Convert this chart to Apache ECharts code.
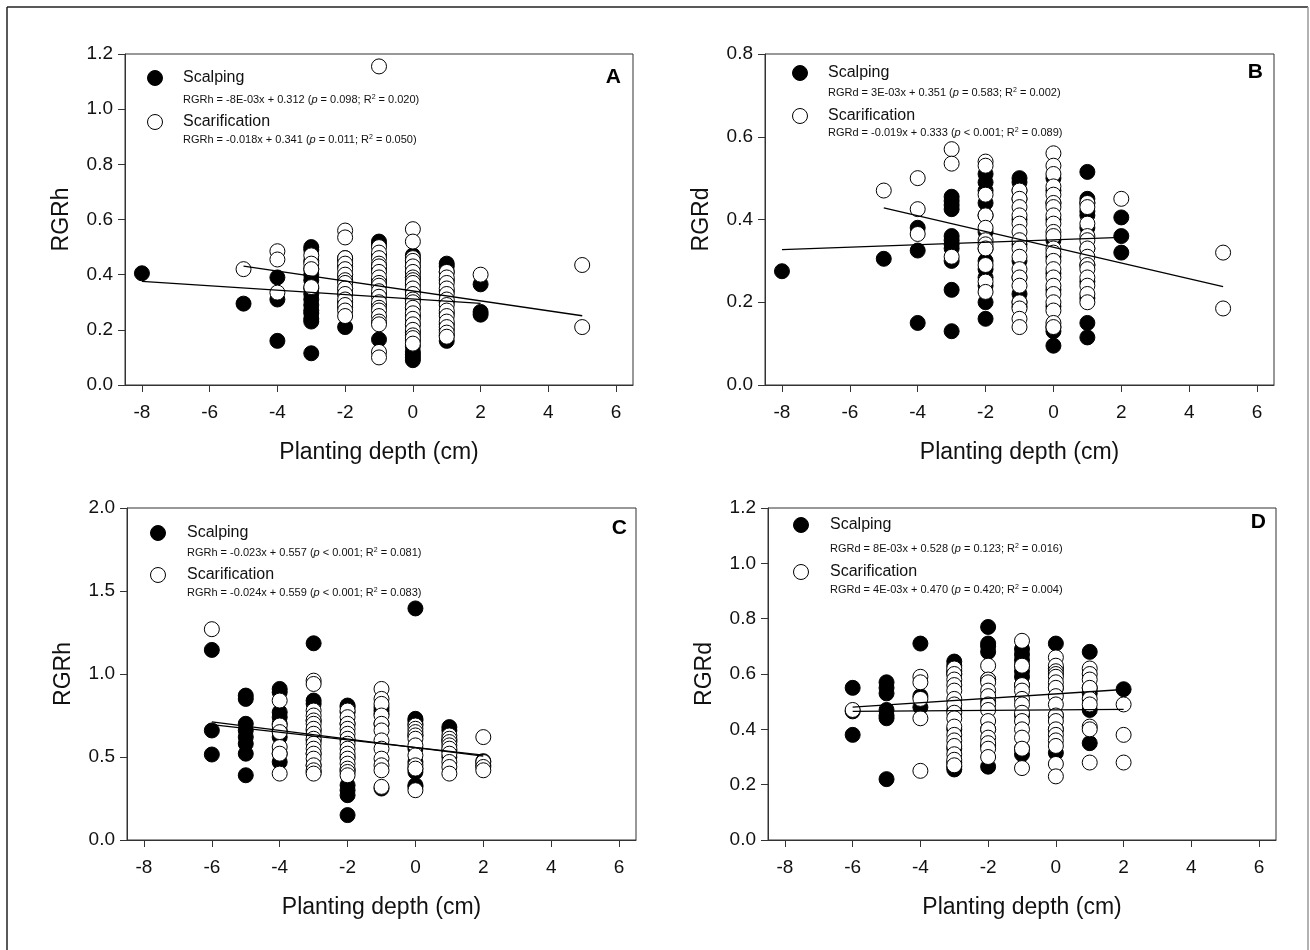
<!DOCTYPE html>
<html>
<head>
<meta charset="utf-8">
<script src="https://cdn.jsdelivr.net/npm/echarts@6/dist/echarts.min.js"></script>
<style>
  html, body { margin: 0; padding: 0; background: #fff; }
  #chart { width: 1310px; height: 950px; }
</style>
</head>
<body>
<div id="chart"></div>
<script>
// values: [planting depth, [values at that depth]]
const xTicks = [-8, -6, -4, -2, 0, 2, 4, 6]

const aScalp = [[-8, [0.405]], [-5, [0.295]], [-4, [0.39, 0.31, 0.16]],
  [-3, [0.50, 0.49, 0.45, 0.42, 0.40, 0.38, 0.35, 0.33, 0.31, 0.29, 0.27, 0.26, 0.24, 0.23, 0.115]],
  [-2, [0.46, 0.45, 0.43, 0.40, 0.38, 0.35, 0.33, 0.30, 0.28, 0.21]],
  [-1, [0.52, 0.51, 0.47, 0.42, 0.38, 0.33, 0.29, 0.165]],
  [0, [0.47, 0.45, 0.43, 0.41, 0.39, 0.36, 0.34, 0.31, 0.28, 0.25, 0.22, 0.19, 0.16, 0.14, 0.12, 0.11, 0.10, 0.09]],
  [1, [0.44, 0.43, 0.41, 0.38, 0.34, 0.30, 0.26, 0.22, 0.20, 0.18, 0.16]],
  [2, [0.365, 0.265, 0.255]]]
const aScarif = [[-5, [0.42]], [-4, [0.485, 0.455, 0.335]], [-3, [0.47, 0.44, 0.42, 0.355]],
  [-2, [0.56, 0.535, 0.46, 0.44, 0.42, 0.40, 0.38, 0.37, 0.35, 0.33, 0.31, 0.29, 0.27, 0.25]],
  [-1, [1.155, 0.50, 0.48, 0.46, 0.44, 0.43, 0.41, 0.39, 0.37, 0.36, 0.34, 0.32, 0.30, 0.28, 0.27, 0.25, 0.23, 0.22, 0.12, 0.10]],
  [0, [0.565, 0.52, 0.46, 0.45, 0.43, 0.41, 0.39, 0.38, 0.37, 0.35, 0.33, 0.31, 0.30, 0.28, 0.26, 0.24, 0.22, 0.20, 0.18, 0.17, 0.15]],
  [1, [0.41, 0.39, 0.37, 0.35, 0.33, 0.31, 0.29, 0.27, 0.25, 0.23, 0.21, 0.19, 0.175]],
  [2, [0.40]], [5, [0.435, 0.21]]]

const bScalp = [[-8, [0.275]], [-5, [0.305]], [-4, [0.38, 0.325, 0.15]],
  [-3, [0.455, 0.445, 0.435, 0.425, 0.36, 0.35, 0.34, 0.33, 0.30, 0.23, 0.13]],
  [-2, [0.51, 0.49, 0.47, 0.44, 0.41, 0.37, 0.33, 0.30, 0.28, 0.26, 0.24, 0.20, 0.16]],
  [-1, [0.50, 0.49, 0.47, 0.45, 0.40, 0.34, 0.30, 0.26, 0.22, 0.20, 0.19]],
  [0, [0.50, 0.47, 0.44, 0.40, 0.35, 0.31, 0.27, 0.23, 0.19, 0.14, 0.13, 0.095]],
  [1, [0.515, 0.45, 0.44, 0.42, 0.41, 0.38, 0.33, 0.29, 0.25, 0.21, 0.15, 0.115]],
  [2, [0.405, 0.36, 0.32]]]
const bScarif = [[-5, [0.47]], [-4, [0.50, 0.425, 0.365]], [-3, [0.57, 0.535, 0.31]],
  [-2, [0.54, 0.53, 0.46, 0.41, 0.38, 0.35, 0.34, 0.33, 0.29, 0.25, 0.225]],
  [-1, [0.47, 0.45, 0.43, 0.41, 0.39, 0.37, 0.35, 0.33, 0.31, 0.28, 0.26, 0.24, 0.20, 0.185, 0.16, 0.14]],
  [0, [0.56, 0.53, 0.51, 0.48, 0.46, 0.44, 0.43, 0.41, 0.39, 0.37, 0.36, 0.33, 0.32, 0.30, 0.28, 0.26, 0.24, 0.22, 0.20, 0.18, 0.15, 0.14]],
  [1, [0.44, 0.43, 0.39, 0.36, 0.35, 0.33, 0.31, 0.29, 0.28, 0.26, 0.24, 0.22, 0.20]],
  [2, [0.45]], [5, [0.32, 0.185]]]

const cScalp = [[-6, [1.145, 0.66, 0.515]], [-5, [0.87, 0.85, 0.70, 0.66, 0.62, 0.58, 0.52, 0.39]],
  [-4, [0.91, 0.89, 0.77, 0.74, 0.70, 0.66, 0.62, 0.52, 0.47]],
  [-3, [1.185, 0.84, 0.82, 0.72, 0.66, 0.60, 0.52, 0.45, 0.41]],
  [-2, [0.81, 0.80, 0.77, 0.70, 0.60, 0.50, 0.42, 0.33, 0.30, 0.27, 0.15]],
  [-1, [0.80, 0.78, 0.76, 0.70, 0.31]],
  [0, [1.395, 0.73, 0.72, 0.70, 0.63, 0.55, 0.47, 0.43, 0.41, 0.33, 0.32]],
  [1, [0.68, 0.66, 0.60, 0.54, 0.50]], [2, [0.475, 0.45]]]
const cScarif = [[-6, [1.27]], [-4, [0.84, 0.69, 0.65, 0.56, 0.52, 0.40]],
  [-3, [0.96, 0.94, 0.78, 0.75, 0.72, 0.70, 0.67, 0.64, 0.61, 0.58, 0.55, 0.52, 0.49, 0.45, 0.42, 0.40]],
  [-2, [0.78, 0.74, 0.70, 0.67, 0.64, 0.61, 0.58, 0.55, 0.52, 0.49, 0.46, 0.43, 0.41, 0.39]],
  [-1, [0.91, 0.85, 0.82, 0.75, 0.70, 0.66, 0.60, 0.55, 0.49, 0.45, 0.42, 0.32]],
  [0, [0.69, 0.67, 0.65, 0.63, 0.61, 0.57, 0.51, 0.45, 0.43, 0.30]],
  [1, [0.63, 0.61, 0.59, 0.57, 0.55, 0.52, 0.47, 0.44, 0.40]], [2, [0.62, 0.47, 0.44, 0.42]]]

const dScalp = [[-6, [0.55, 0.465, 0.38]], [-5, [0.57, 0.55, 0.53, 0.47, 0.45, 0.44, 0.22]], [-4, [0.71, 0.52, 0.48]],
  [-3, [0.645, 0.63, 0.61, 0.60, 0.47, 0.40, 0.33, 0.28, 0.265, 0.255]],
  [-2, [0.77, 0.71, 0.70, 0.68, 0.58, 0.50, 0.40, 0.34, 0.265]],
  [-1, [0.69, 0.67, 0.65, 0.63, 0.61, 0.59, 0.56, 0.45, 0.33, 0.31]],
  [0, [0.71, 0.62, 0.55, 0.45, 0.40, 0.315]], [1, [0.68, 0.55, 0.53, 0.47, 0.35]], [2, [0.545]]]
const dScarif = [[-6, [0.47]], [-4, [0.59, 0.57, 0.51, 0.44, 0.25]],
  [-3, [0.62, 0.60, 0.58, 0.56, 0.54, 0.51, 0.49, 0.46, 0.44, 0.41, 0.38, 0.36, 0.34, 0.31, 0.29, 0.27]],
  [-2, [0.63, 0.58, 0.57, 0.54, 0.52, 0.49, 0.47, 0.43, 0.40, 0.37, 0.35, 0.33, 0.30]],
  [-1, [0.72, 0.63, 0.56, 0.54, 0.51, 0.49, 0.46, 0.43, 0.40, 0.37, 0.33, 0.26]],
  [0, [0.66, 0.63, 0.61, 0.60, 0.59, 0.57, 0.55, 0.52, 0.49, 0.45, 0.43, 0.40, 0.38, 0.36, 0.34, 0.275, 0.23]],
  [1, [0.62, 0.60, 0.58, 0.55, 0.51, 0.49, 0.41, 0.40, 0.28]], [2, [0.49, 0.38, 0.28]]]

// regression lines, end points as drawn
const aFitScalp = [[-8, 0.376], [2, 0.296]]
const aFitScarif = [[-5, 0.431], [5, 0.251]]
const bFitScalp = [[-8, 0.327], [2, 0.357]]
const bFitScarif = [[-5, 0.428], [5, 0.238]]
const cFitScalp = [[-6, 0.695], [2, 0.511]]
const cFitScarif = [[-6, 0.712], [2, 0.505]]
const dFitScalp = [[-6, 0.480], [2, 0.544]]
const dFitScarif = [[-6, 0.465], [2, 0.472]]

// equation texts: [fit, p part, R2]
const aEq = [['RGRh = -8E-03x + 0.312', ' = 0.098', '0.020'], ['RGRh = -0.018x + 0.341', ' = 0.011', '0.050']]
const bEq = [['RGRd = 3E-03x + 0.351', ' = 0.583', '0.002'], ['RGRd = -0.019x + 0.333', ' < 0.001', '0.089']]
const cEq = [['RGRh = -0.023x + 0.557', ' < 0.001', '0.081'], ['RGRh = -0.024x + 0.559', ' < 0.001', '0.083']]
const dEq = [['RGRd = 8E-03x + 0.528', ' = 0.123', '0.016'], ['RGRd = 4E-03x + 0.470', ' = 0.420', '0.004']]

const FONT = 'Arial, "Liberation Sans", sans-serif'
const INK = '#111'

const panels = [
  { letter: 'A', grid: { left: 125, top: 54, width: 508, height: 331 }, yMax: 1.2, yInt: 0.2, yName: 'RGRh',
    scalp: aScalp, scarif: aScarif, fits: [aFitScalp, aFitScarif], eq: aEq,
    leg: { cx: 155, tx: 183, y: [78, 100, 122, 140] }, lab: [621, 77] },
  { letter: 'B', grid: { left: 765, top: 54, width: 509, height: 331 }, yMax: 0.8, yInt: 0.2, yName: 'RGRd',
    scalp: bScalp, scarif: bScarif, fits: [bFitScalp, bFitScarif], eq: bEq,
    leg: { cx: 800, tx: 828, y: [73, 93, 116, 133] }, lab: [1263, 72] },
  { letter: 'C', grid: { left: 127, top: 508, width: 509, height: 332 }, yMax: 2.0, yInt: 0.5, yName: 'RGRh',
    scalp: cScalp, scarif: cScarif, fits: [cFitScalp, cFitScarif], eq: cEq,
    leg: { cx: 158, tx: 187, y: [533, 553, 575, 593] }, lab: [627, 528] },
  { letter: 'D', grid: { left: 768, top: 508, width: 508, height: 332 }, yMax: 1.2, yInt: 0.2, yName: 'RGRd',
    scalp: dScalp, scarif: dScarif, fits: [dFitScalp, dFitScarif], eq: dEq,
    leg: { cx: 801, tx: 830, y: [525, 549, 572, 590] }, lab: [1266, 522] }
]

function flat(cols) {
  const out = []
  cols.forEach(([x, ys]) => ys.forEach(y => out.push([x, y])))
  return out
}

function eqText(e) {
  return '{n|' + e[0] + ' (}{i|p}{n|' + e[1] + '; R}{s|2}{n| = ' + e[2] + ')}'
}
const eqRich = {
  n: { fontFamily: FONT, fontSize: 11, lineHeight: 13, fill: INK, color: INK },
  i: { fontFamily: FONT, fontSize: 11, lineHeight: 13, fontStyle: 'italic', fill: INK, color: INK },
  s: { fontFamily: FONT, fontSize: 7, lineHeight: 7, verticalAlign: 'top', fill: INK, color: INK }
}

const axisLineStyle = { color: '#333', width: 1 }

const option = {
  animation: false,
  backgroundColor: '#fff',
  grid: panels.map(p => Object.assign({ show: true, borderColor: '#333', borderWidth: 1, outerBoundsMode: 'none', containLabel: false }, p.grid)),
  xAxis: panels.map((p, i) => ({
    type: 'value', gridIndex: i, min: -8.5, max: 6.5,
    name: 'Planting depth (cm)', nameLocation: 'middle', nameGap: 56,
    nameTextStyle: { fontFamily: FONT, fontSize: 23, color: INK },
    axisLine: { show: true, onZero: false, lineStyle: axisLineStyle },
    axisTick: { show: true, length: 7, customValues: xTicks, lineStyle: axisLineStyle },
    axisLabel: { customValues: xTicks, fontFamily: FONT, fontSize: 19, color: INK, margin: 18 },
    splitLine: { show: false }
  })),
  yAxis: panels.map((p, i) => ({
    type: 'value', gridIndex: i, min: 0, max: p.yMax, interval: p.yInt,
    name: p.yName, nameLocation: 'middle', nameGap: 52,
    nameTextStyle: { fontFamily: FONT, fontSize: 23, color: INK },
    axisLine: { show: true, onZero: false, lineStyle: axisLineStyle },
    axisTick: { show: true, length: 7, lineStyle: axisLineStyle },
    axisLabel: { fontFamily: FONT, fontSize: 19, color: INK, margin: 12, formatter: v => v.toFixed(1) },
    splitLine: { show: false }
  })),
  series: [],
  graphic: []
}

panels.forEach((p, i) => {
  option.series.push({
    type: 'scatter', xAxisIndex: i, yAxisIndex: i, data: flat(p.scalp), symbolSize: 15, z: 2,
    itemStyle: { color: '#000', borderColor: '#000', borderWidth: 1, opacity: 1 }, silent: true
  })
  option.series.push({
    type: 'scatter', xAxisIndex: i, yAxisIndex: i, data: flat(p.scarif), symbolSize: 15, z: 3,
    itemStyle: { color: '#fff', borderColor: '#000', borderWidth: 1, opacity: 1 }, silent: true
  })
  p.fits.forEach(f => {
    option.series.push({
      type: 'line', xAxisIndex: i, yAxisIndex: i, data: f, symbol: 'none', z: 4, silent: true,
      lineStyle: { color: '#000', width: 1.3 }
    })
  })

  const L = p.leg
  option.graphic.push(
    { type: 'circle', shape: { cx: L.cx, cy: L.y[0], r: 7.5 }, style: { fill: '#000', stroke: '#000' }, z: 10 },
    { type: 'text', x: L.tx, y: L.y[0], z: 10, style: { text: 'Scalping', font: '16px ' + FONT, fill: INK, verticalAlign: 'middle' } },
    { type: 'text', x: L.tx, y: L.y[1], z: 10, style: { text: eqText(p.eq[0]), rich: eqRich, fill: INK, verticalAlign: 'middle' } },
    { type: 'circle', shape: { cx: L.cx, cy: L.y[2], r: 7.5 }, style: { fill: '#fff', stroke: '#000', lineWidth: 1 }, z: 10 },
    { type: 'text', x: L.tx, y: L.y[2], z: 10, style: { text: 'Scarification', font: '16px ' + FONT, fill: INK, verticalAlign: 'middle' } },
    { type: 'text', x: L.tx, y: L.y[3], z: 10, style: { text: eqText(p.eq[1]), rich: eqRich, fill: INK, verticalAlign: 'middle' } },
    { type: 'text', x: p.lab[0], y: p.lab[1], z: 10, style: { text: p.letter, font: 'bold 21px ' + FONT, fill: '#000', align: 'right', verticalAlign: 'middle' } }
  )
})

// figure frame
option.graphic.push(
  { type: 'line', shape: { x1: 7, y1: 7, x2: 1308, y2: 7 }, style: { stroke: '#222', lineWidth: 1.5 } },
  { type: 'line', shape: { x1: 7, y1: 7, x2: 7, y2: 950 }, style: { stroke: '#222', lineWidth: 1.5 } },
  { type: 'line', shape: { x1: 1308, y1: 7, x2: 1308, y2: 950 }, style: { stroke: '#999', lineWidth: 1.5 } }
)

const chart = echarts.init(document.getElementById('chart'), null, { renderer: 'canvas' })
chart.setOption(option)
window.addEventListener('resize', () => chart.resize())
</script>
</body>
</html>
